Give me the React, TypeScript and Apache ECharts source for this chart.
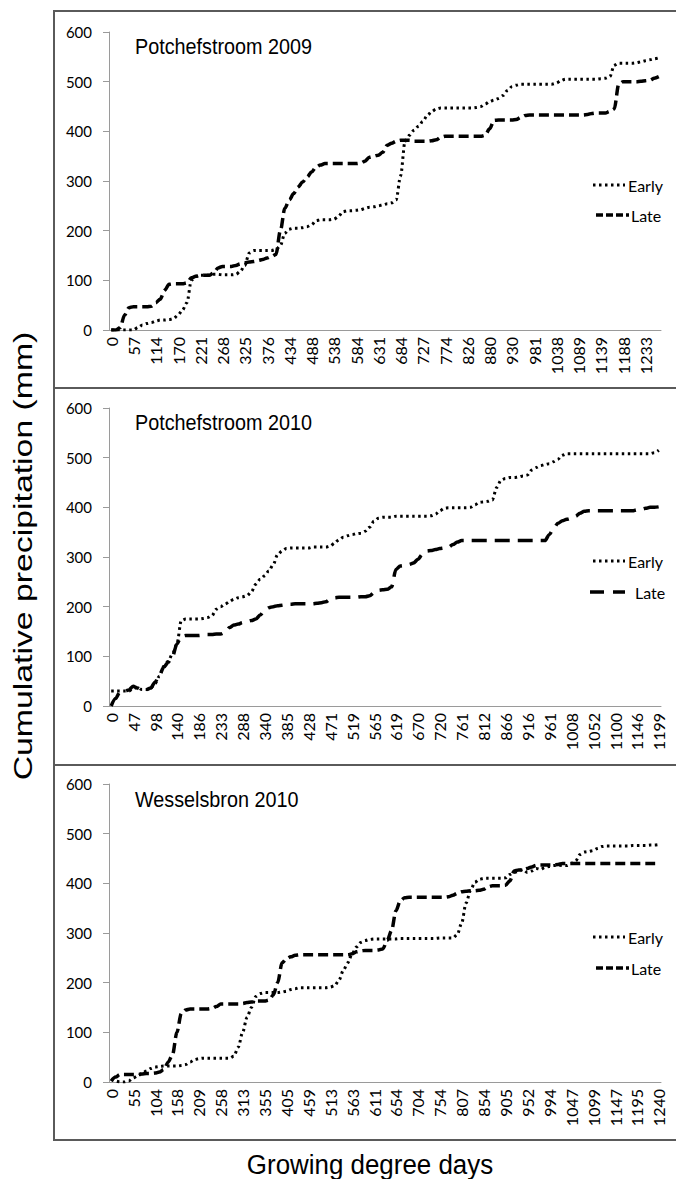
import React, { useEffect, useRef } from "react";
import * as echarts from "echarts";

// ---- Data (cumulative precipitation, mm, one value per day) ----
const p1Ticks = ["0","57","114","170","221","268","325","376","434","488","538","584","631","684","727","774","826","880","930","981","1038","1089","1139","1188","1233"];
const p2Ticks = ["0","47","98","140","186","233","288","340","385","428","471","519","565","619","670","720","761","812","866","916","961","1008","1052","1100","1146","1199"];
const p3Ticks = ["0","55","104","158","209","258","313","355","405","459","513","563","611","654","704","754","807","854","905","952","994","1047","1099","1147","1195","1240"];

const p1Early = [0,0,0,0,0,0,5,10,13,15,
18,20,20,21,23,30,40,55,100,108,
110,110,110,112,112,111,111,111,112,118,
130,155,160,160,160,160,160,162,170,195,
203,205,205,206,208,212,220,222,222,222,
223,228,238,240,240,241,242,245,247,248,
250,252,254,256,262,310,380,392,402,410,
420,432,440,445,447,447,447,447,447,447,
447,447,448,450,455,460,463,466,472,482,
490,493,495,495,495,495,495,495,495,495,
497,502,505,505,505,505,505,505,505,505,
506,507,510,533,537,537,537,537,538,540,
542,544,546,548];
const p1Late = [0,0,5,30,45,47,47,47,47,48,
55,62,80,92,93,93,93,95,105,108,
110,110,110,115,125,128,128,128,130,133,
135,137,138,140,142,145,148,152,200,245,
262,275,288,298,308,318,328,332,335,335,
335,335,335,335,335,335,336,340,348,350,
352,358,372,376,380,382,382,382,380,380,
380,380,381,383,388,390,390,390,390,390,
390,390,390,390,392,405,422,423,423,423,
423,424,428,432,433,433,433,433,433,433,
433,433,433,433,433,433,433,434,436,437,
437,437,440,445,495,500,500,500,500,501,
502,503,507,510];

const p2Early = [30,30,30,30,30,35,38,33,33,36,
45,60,80,90,105,125,172,175,175,175,
175,176,178,182,195,200,205,210,215,218,
220,222,230,245,255,262,272,285,305,312,
317,318,318,318,318,318,320,320,320,320,
322,328,335,340,343,345,347,348,352,360,
372,378,380,380,380,382,382,382,382,382,
382,382,382,383,386,393,398,399,399,399,
399,399,400,405,410,411,412,415,440,455,
458,460,460,461,463,465,475,480,484,486,
488,492,497,505,508,508,508,508,508,508,
508,508,508,508,508,508,508,508,508,508,
508,508,508,508,510,515];
const p2Late = [0,15,28,30,32,40,36,32,33,36,
48,62,78,88,100,125,140,142,142,142,
142,143,144,144,145,145,148,158,163,165,
168,170,172,175,183,193,198,200,202,203,
205,205,206,206,206,206,206,207,208,210,
215,218,219,219,219,219,219,220,220,222,
228,233,234,235,240,275,282,283,285,288,
295,305,312,313,315,317,318,320,325,330,
333,333,333,333,333,333,333,333,333,333,
333,333,333,333,333,333,333,333,333,333,
345,358,368,373,376,378,382,388,392,393,
393,393,393,393,393,393,393,393,393,393,
395,396,398,400,400,401];

const p3Early = [5,2,0,0,2,8,12,17,22,27,
30,31,32,32,32,32,33,35,40,45,
47,48,48,48,48,48,48,48,52,70,
100,130,150,172,178,180,180,180,180,181,
183,186,188,190,190,190,190,190,190,190,
191,194,205,225,240,258,272,281,285,287,
288,288,288,288,288,288,289,289,289,289,
289,289,289,289,289,290,290,290,290,297,
320,360,385,402,408,410,410,410,410,410,
411,418,422,424,428,422,425,430,428,432,
434,436,437,436,436,440,445,458,463,464,
466,470,474,475,475,475,475,475,475,476,
476,476,476,477,477,478];
const p3Late = [2,10,15,15,15,15,15,16,17,17,
18,20,25,40,55,100,138,145,147,147,
147,147,147,148,152,157,157,157,157,157,
158,160,161,163,163,163,165,175,200,240,
248,252,255,256,256,256,256,256,256,256,
256,256,256,256,256,258,262,264,265,265,
265,266,268,285,305,345,365,371,372,372,
372,372,372,372,372,372,372,373,376,380,
383,384,385,385,386,388,393,395,395,395,
396,405,425,427,428,430,433,436,437,437,
437,437,438,440,440,440,440,440,440,440,
440,440,440,440,440,440,440,440,440,440,
440,440,440,440,440,440];

const titles = ["Potchefstroom 2009", "Potchefstroom 2010", "Wesselsbron 2010"];
const yTicks = [0, 100, 200, 300, 400, 500, 600];

const panels = [
  { ticks: p1Ticks, early: p1Early, late: p1Late, lateDash: [10, 5] },
  { ticks: p2Ticks, early: p2Early, late: p2Late, lateDash: [15, 8] },
  { ticks: p3Ticks, early: p3Early, late: p3Late, lateDash: [10, 5] },
];

const LABEL_FONT = "Lato, 'Open Sans', sans-serif";
const TITLE_FONT = "'Liberation Sans', Arial, sans-serif";

const GRID_LEFT = 109;
const GRID_WIDTH = 552;
const PANEL_TOPS = [32, 408, 784];
const PANEL_H = 298;
const PANEL_STEP = 376.5;

export default function App() {
  const ref = useRef<HTMLDivElement>(null);
  useEffect(() => {
    document.body.style.margin = "0";
    if (!ref.current) return;
    const chart = echarts.init(ref.current, null, { renderer: "svg" });

    const grids = panels.map((_, k) => ({
      left: GRID_LEFT, width: GRID_WIDTH, top: PANEL_TOPS[k], height: PANEL_H,
    }));
    const xAxes = panels.map((p, k) => {
      const cats = p.early.map((_, i) => (i % 5 === 0 && p.ticks[i / 5] !== undefined ? p.ticks[i / 5] : ""));
      return {
        type: "category", gridIndex: k, data: cats, boundaryGap: true,
        axisLine: { lineStyle: { color: "#9a9a9a", width: 1 } },
        axisTick: { interval: 0, length: 5, lineStyle: { color: "#9a9a9a" } },
        axisLabel: { interval: 4, rotate: 90, fontSize: 16, color: "#000", fontFamily: LABEL_FONT, margin: 7 },
        splitLine: { show: false },
      };
    });
    const yAxes = panels.map((_, k) => ({
      type: "value", gridIndex: k, min: yTicks[0], max: yTicks[yTicks.length - 1], interval: 100,
      axisLine: { show: true, lineStyle: { color: "#9a9a9a", width: 1 } },
      axisTick: { show: true, length: 6, lineStyle: { color: "#9a9a9a" } },
      splitLine: { show: false },
      axisLabel: { fontSize: 15, color: "#000", fontFamily: LABEL_FONT, margin: 17 },
    }));
    const series: any[] = [];
    panels.forEach((p, k) => {
      series.push({
        type: "line", name: "Early", xAxisIndex: k, yAxisIndex: k, data: p.early,
        symbol: "none", smooth: 0.3, smoothMonotone: "x",
        lineStyle: { color: "#000", width: 3, type: [2.5, 3.5] },
      });
      series.push({
        type: "line", name: "Late", xAxisIndex: k, yAxisIndex: k, data: p.late,
        symbol: "none", smooth: 0.3, smoothMonotone: "x",
        lineStyle: { color: "#000", width: 3.5, type: p.lateDash },
      });
    });

    const legendY = [[185, 215], [561, 592], [937, 968]];
    const graphic: any[] = [
      { type: "rect", shape: { x: 54, y: 11, width: 640, height: 1129 }, style: { fill: "none", stroke: "#5a5a5a", lineWidth: 2 } },
      { type: "line", shape: { x1: 54, y1: 388, x2: 676, y2: 388 }, style: { stroke: "#5a5a5a", lineWidth: 2 } },
      { type: "line", shape: { x1: 54, y1: 765, x2: 676, y2: 765 }, style: { stroke: "#5a5a5a", lineWidth: 2 } },
      { type: "text", x: 370, y: 1165, scaleX: 0.96, style: { text: "Growing degree days", fontSize: 27, fontFamily: TITLE_FONT, fill: "#000", textAlign: "center", textVerticalAlign: "middle" } },
      { type: "text", x: 23, y: 556, rotation: Math.PI / 2, scaleX: 1.3, style: { text: "Cumulative precipitation (mm)", fontSize: 26, fontFamily: TITLE_FONT, fill: "#000", textAlign: "center", textVerticalAlign: "middle" } },
    ];
    panels.forEach((p, k) => {
      const off = k * PANEL_STEP;
      graphic.push({ type: "text", x: 135, y: 46 + off, scaleX: 0.9, style: { text: titles[k], fontSize: 22, fontFamily: TITLE_FONT, fill: "#000", textAlign: "left", textVerticalAlign: "middle" } });
      const [ye, yl] = legendY[k];
      graphic.push({ type: "line", shape: { x1: 593, y1: ye, x2: 625, y2: ye }, style: { stroke: "#000", lineWidth: 3, lineDash: [2.5, 3.5] } });
      graphic.push({ type: "text", x: 628, y: ye, style: { text: "Early", fontSize: 16, fontFamily: LABEL_FONT, fill: "#000", textAlign: "left", textVerticalAlign: "middle" } });
      if (k === 1) {
        graphic.push({ type: "line", shape: { x1: 590, y1: yl, x2: 625, y2: yl }, style: { stroke: "#000", lineWidth: 3.5, lineDash: [14, 9] } });
        graphic.push({ type: "text", x: 635, y: yl, style: { text: "Late", fontSize: 16, fontFamily: LABEL_FONT, fill: "#000", textAlign: "left", textVerticalAlign: "middle" } });
      } else {
        graphic.push({ type: "line", shape: { x1: 596, y1: yl, x2: 629, y2: yl }, style: { stroke: "#000", lineWidth: 3.5, lineDash: [7, 3] } });
        graphic.push({ type: "text", x: 631, y: yl, style: { text: "Late", fontSize: 16, fontFamily: LABEL_FONT, fill: "#000", textAlign: "left", textVerticalAlign: "middle" } });
      }
    });

    chart.setOption({
      animation: false,
      backgroundColor: "#fff",
      grid: grids,
      xAxis: xAxes,
      yAxis: yAxes,
      series,
      graphic,
    });
    return () => chart.dispose();
  }, []);
  return <div ref={ref} style={{ width: 676, height: 1179 }} />;
}
